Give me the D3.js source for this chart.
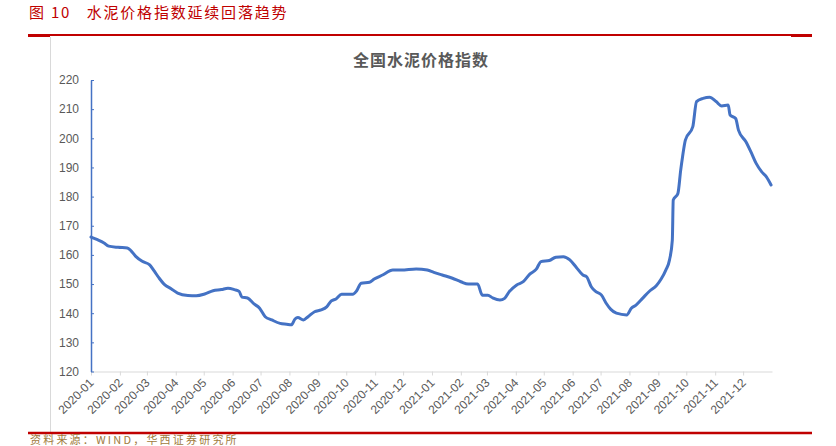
<!DOCTYPE html>
<html>
<head>
<meta charset="utf-8">
<script src="https://cdn.jsdelivr.net/npm/d3@7"></script>
<style>
  html, body { margin: 0; padding: 0; background: #fff; }
  svg { display: block; }
</style>
</head>
<body>
<svg id="chart" width="836" height="446"></svg>
<script>
const headerTitle = "图 10   水泥价格指数延续回落趋势";
const chartTitle = "全国水泥价格指数";
const sourceText = "资料来源：WIND，华西证券研究所";

const dates = [
  "2020-01-01","2020-01-08","2020-01-15","2020-01-20","2020-01-30","2020-02-09","2020-02-13","2020-02-18","2020-02-25",
  "2020-03-04","2020-03-09","2020-03-14","2020-03-20","2020-03-27","2020-04-03","2020-04-14","2020-04-23",
  "2020-05-02","2020-05-11","2020-05-20","2020-05-27","2020-06-03","2020-06-08","2020-06-11","2020-06-17","2020-06-24","2020-06-30",
  "2020-07-06","2020-07-13","2020-07-22","2020-07-29","2020-08-03","2020-08-07","2020-08-10","2020-08-16","2020-08-21","2020-08-28",
  "2020-09-04","2020-09-10","2020-09-15","2020-09-20","2020-09-26","2020-10-08","2020-10-12","2020-10-17","2020-10-26","2020-10-31",
  "2020-11-09","2020-11-20","2020-11-29","2020-12-15","2020-12-27",
  "2021-01-03","2021-01-12","2021-01-23","2021-02-01","2021-02-09","2021-02-19","2021-02-24",
  "2021-03-02","2021-03-07","2021-03-15","2021-03-20","2021-03-25","2021-04-02","2021-04-09","2021-04-16","2021-04-23","2021-04-28",
  "2021-05-07","2021-05-14","2021-05-22","2021-05-29","2021-06-05","2021-06-12","2021-06-16","2021-06-21","2021-06-26",
  "2021-07-02","2021-07-07","2021-07-12","2021-07-18","2021-07-29","2021-08-03","2021-08-08","2021-08-15","2021-08-23","2021-08-30",
  "2021-09-04","2021-09-09","2021-09-13","2021-09-16","2021-09-17","2021-09-22","2021-09-25","2021-09-27","2021-09-30",
  "2021-10-08","2021-10-12","2021-10-19","2021-10-26","2021-11-02","2021-11-08","2021-11-15","2021-11-17","2021-11-23","2021-11-26",
  "2021-12-04","2021-12-10","2021-12-15","2021-12-21","2021-12-26","2021-12-31"
];
const cementIndex = [
  166.1,165.2,164.1,163.0,162.6,162.4,161.4,159.5,157.8,
  156.6,154.4,152.1,149.8,148.4,146.9,146.1,146.0,
  146.6,147.7,148.1,148.6,148.1,147.5,145.5,145.2,143.2,141.7,
  138.8,137.7,136.5,136.2,136.0,138.0,138.5,137.7,138.8,140.5,
  141.1,142.2,144.2,144.9,146.5,146.5,147.6,150.3,150.6,151.7,
  153.1,154.8,154.8,155.2,154.8,
  154.0,153.1,152.0,150.8,150.0,150.0,146.2,
  146.2,145.3,144.5,145.1,147.4,149.7,150.8,153.4,155.1,157.7,
  158.1,159.2,159.4,158.3,155.7,153.1,152.5,149.1,147.4,
  146.2,143.4,141.3,140.0,139.4,141.7,142.8,145.1,147.7,149.5,
  151.7,154.8,158.3,165.1,178.8,181.1,189.1,193.7,199.4,
  204.0,212.6,213.7,214.1,212.6,211.1,211.4,208.0,206.8,202.8,
  198.8,194.9,191.4,188.5,186.8,184.0
];
const yTicks = [120,130,140,150,160,170,180,190,200,210,220];
const xTickMonths = [
  "2020-01","2020-02","2020-03","2020-04","2020-05","2020-06","2020-07","2020-08","2020-09","2020-10","2020-11","2020-12",
  "2021-01","2021-02","2021-03","2021-04","2021-05","2021-06","2021-07","2021-08","2021-09","2021-10","2021-11","2021-12"
];

const parseDay = d3.timeParse("%Y-%m-%d");
const parseMonth = d3.timeParse("%Y-%m");
const fmtMonth = d3.timeFormat("%Y-%m");
const data = dates.map((d, i) => ({ date: parseDay(d), value: cementIndex[i] }));

const svg = d3.select("#chart");
const red = "#C00000";
const grayText = "#595959";
const blue = "#4472C4";

// header
svg.append("text")
  .attr("x", 29).attr("y", 18)
  .attr("fill", red)
  .attr("font-family", "'Noto Sans CJK SC', sans-serif")
  .attr("font-size", 15)
  .attr("letter-spacing", 1.8)
  .attr("xml:space", "preserve")
  .style("white-space", "pre")
  .text(headerTitle);

// top red rule
svg.append("line").attr("x1", 28).attr("x2", 812).attr("y1", 35).attr("y2", 35)
  .attr("stroke", red).attr("stroke-width", 2);
svg.append("line").attr("x1", 28).attr("x2", 50).attr("y1", 35.5).attr("y2", 35.5)
  .attr("stroke", red).attr("stroke-width", 3);
svg.append("line").attr("x1", 791).attr("x2", 812).attr("y1", 35.5).attr("y2", 35.5)
  .attr("stroke", red).attr("stroke-width", 3);

// chart frame left border
svg.append("line").attr("x1", 50.5).attr("x2", 50.5).attr("y1", 37).attr("y2", 432)
  .attr("stroke", "#d9d9d9").attr("stroke-width", 1);

// bottom red rule
svg.append("line").attr("x1", 28).attr("x2", 812).attr("y1", 433).attr("y2", 433)
  .attr("stroke", red).attr("stroke-width", 2.5);

// footer source
svg.append("text")
  .attr("x", 30).attr("y", 443.5)
  .attr("fill", "#A07A3C")
  .attr("font-family", "'Noto Sans CJK SC', sans-serif")
  .attr("font-size", 11)
  .attr("letter-spacing", 2.2)
  .text(sourceText);

// chart title
svg.append("text")
  .attr("x", 421).attr("y", 66)
  .attr("text-anchor", "middle")
  .attr("fill", grayText)
  .attr("font-family", "'Noto Sans CJK SC', sans-serif")
  .attr("font-weight", "bold")
  .attr("font-size", 16)
  .attr("letter-spacing", 1)
  .text(chartTitle);

// scales
const x = d3.scaleTime()
  .domain([parseDay("2020-01-01"), parseDay("2022-01-01")])
  .range([91, 772]);
const y = d3.scaleLinear().domain([120, 220]).range([371.5, 80]);

// x axis
const xAxis = svg.append("g")
  .attr("transform", "translate(0,371.5)")
  .call(d3.axisBottom(x)
    .tickValues(xTickMonths.map(parseMonth))
    .tickFormat(fmtMonth)
    .tickSize(4)
    .tickSizeOuter(0));
xAxis.select(".domain").attr("stroke", "#d9d9d9").attr("stroke-width", 1.2);
xAxis.selectAll(".tick line").attr("stroke", "#d9d9d9");
xAxis.selectAll(".tick text")
  .attr("fill", grayText)
  .attr("font-family", "'Liberation Sans', Arial, sans-serif")
  .attr("font-size", 12)
  .attr("text-anchor", "end")
  .attr("y", 0).attr("dy", 0)
  .attr("transform", "translate(3,12) rotate(-45)");

// y axis
const yAxis = svg.append("g")
  .attr("transform", "translate(91,0)")
  .call(d3.axisLeft(y)
    .tickValues(yTicks)
    .tickSize(-3)
    .tickPadding(12)
    .tickSizeOuter(0));
yAxis.select(".domain").attr("stroke", blue).attr("stroke-width", 1.5);
yAxis.selectAll(".tick line").attr("stroke", blue).attr("stroke-width", 1);
yAxis.selectAll(".tick text")
  .attr("fill", grayText)
  .attr("font-family", "'Liberation Sans', Arial, sans-serif")
  .attr("font-size", 12);

// line
const line = d3.line()
  .x(d => x(d.date))
  .y(d => y(d.value))
  .curve(d3.curveMonotoneX);
svg.append("path")
  .datum(data)
  .attr("d", line)
  .attr("fill", "none")
  .attr("stroke", blue)
  .attr("stroke-width", 3)
  .attr("stroke-linejoin", "round")
  .attr("stroke-linecap", "round");
</script>
</body>
</html>
